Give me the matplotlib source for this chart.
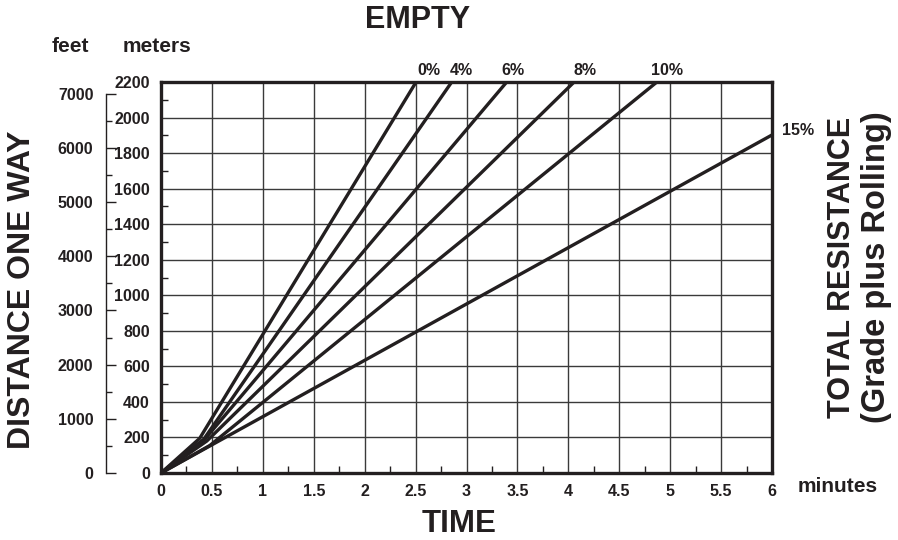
import numpy as np
import matplotlib.pyplot as plt
from matplotlib.ticker import MultipleLocator

# curve data: time (minutes) vs distance (meters)
grades = ['0%', '4%', '6%', '8%', '10%', '15%']
time_min = [[0, 0.38, 2.505], [0, 0.42, 2.855], [0, 0.43, 3.395],
            [0, 0.45, 4.057], [0, 0.48, 4.87], [0, 6.0]]
dist_m = [[0, 195, 2200], [0, 190, 2200], [0, 190, 2200],
          [0, 180, 2200], [0, 155, 2200], [0, 1902]]
label_t = [2.633, 2.947, 3.458, 4.165, 4.971, 6.1]
label_d = [2262, 2262, 2262, 2262, 2262, 1925]

x_ticks = [0, 0.5, 1, 1.5, 2, 2.5, 3, 3.5, 4, 4.5, 5, 5.5, 6]
x_labels = ['0', '0.5', '1', '1.5', '2', '2.5', '3', '3.5', '4', '4.5', '5', '5.5', '6']
m_ticks = list(range(0, 2201, 200))
ft_ticks = list(range(0, 7001, 1000))

W, H = 898, 540
ink = '#231f20'
fam = ['Liberation Sans', 'DejaVu Sans']

fig = plt.figure(figsize=(W / 100, H / 100), dpi=100)
ax = fig.add_axes([161 / W, 1 - 473 / H, 611 / W, 391 / H])

for t, d in zip(time_min, dist_m):
    ax.plot(t, d, color=ink, lw=2.4, solid_capstyle='butt', zorder=3)

ax.set_xlim(0, 6)
ax.set_ylim(0, 2200)
ax.set_xticks(x_ticks)
ax.set_xticklabels(x_labels)
ax.set_yticks(m_ticks)
ax.xaxis.set_minor_locator(MultipleLocator(0.25))
ax.yaxis.set_minor_locator(MultipleLocator(100))
ax.grid(True, which='major', color='#3a3a3a', lw=1.0, zorder=1)
ax.tick_params(which='major', length=0, pad=8, labelsize=11.5, colors=ink)
ax.tick_params(which='minor', direction='in', length=5, width=1, color=ink)
for lab in ax.get_xticklabels() + ax.get_yticklabels():
    lab.set_family(fam)
    lab.set_fontweight('bold')
for s in ax.spines.values():
    s.set_linewidth(2.4)
    s.set_color(ink)

for g, t, d in zip(grades, label_t, label_d):
    ha = 'left' if g == '15%' else 'center'
    ax.text(t, d, g, ha=ha, va='center', fontsize=11.5, fontweight='bold',
            family=fam, color=ink, clip_on=False)

# feet scale on the far left
axf = fig.add_axes([106 / W, 1 - 473 / H, 0.001, 391 / H])
axf.patch.set_visible(False)
for k in ['top', 'right', 'bottom']:
    axf.spines[k].set_visible(False)
axf.spines['left'].set_bounds(0, 7000)
axf.spines['left'].set_linewidth(1)
axf.spines['left'].set_color(ink)
axf.set_xticks([])
axf.set_yticks(ft_ticks)
axf.yaxis.set_minor_locator(MultipleLocator(500))
axf.set_ylim(0, 2200 / 0.3048)
axf.tick_params(axis='y', which='major', direction='in', length=7, width=1,
                pad=9, labelsize=11.5, colors=ink)
axf.tick_params(axis='y', which='minor', direction='in', length=4, width=1, color=ink)
for lab in axf.get_yticklabels():
    lab.set_family(fam)
    lab.set_fontweight('bold')


def ftext(x, y, s, **kw):
    fig.text(x / W, 1 - y / H, s, ha='center', va='center', color=ink,
             fontweight='bold', family=fam, **kw)


ftext(418, 20, 'EMPTY', fontsize=22)
ftext(459, 524, 'TIME', fontsize=22.5)
ftext(70, 46, 'feet', fontsize=15)
ftext(157, 46, 'meters', fontsize=15)
ftext(838, 487, 'minutes', fontsize=15)
ftext(22, 290, 'DISTANCE ONE WAY', fontsize=23, rotation=90)
ftext(842, 267, 'TOTAL RESISTANCE', fontsize=22, rotation=90)
ftext(877, 267, '(Grade plus Rolling)', fontsize=23.5, rotation=90)

fig.savefig('out.png', dpi=100)
